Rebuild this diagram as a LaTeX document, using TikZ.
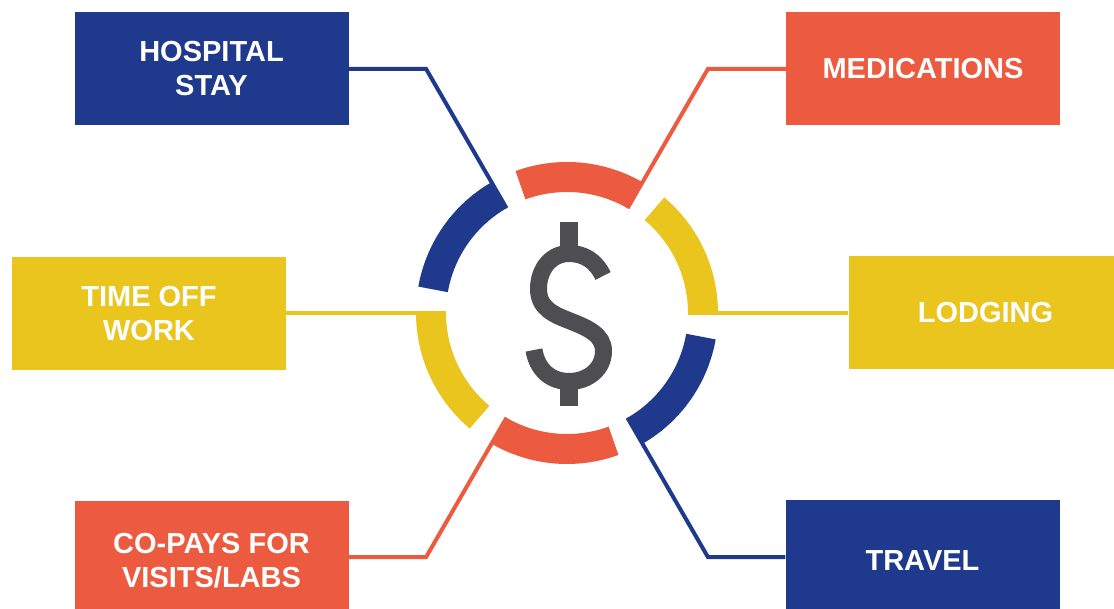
\documentclass[tikz,border=0pt]{standalone}
\usepackage{fontspec}
\setmainfont{Liberation Sans}
\usetikzlibrary{calc}
\definecolor{costblue}{RGB}{31,58,140}
\definecolor{costred}{RGB}{236,91,64}
\definecolor{costyellow}{RGB}{234,197,30}
\definecolor{costgray}{RGB}{78,78,80}
\tikzset{
    costbox/.style={minimum width=274pt,minimum height=113pt,inner sep=0pt,text=white,align=center,font=\bfseries\fontsize{29}{34}\selectfont},
    link/.style={line width=4pt,line join=miter}
}
\begin{document}
\begin{tikzpicture}[x=1pt,y=1pt]
                \fill[white] (0,0) rectangle (1114,609);
                \useasboundingbox (0,0) rectangle (1114,609);
                \coordinate (ring) at (567,296);
                \node[costbox,fill=costblue] (hospital) at (211.5,540) {HOSPITAL\\STAY};
                \node[costbox,fill=costred] (medications) at (923,540.5) {MEDICATIONS};
                \node[costbox,fill=costyellow] (timeoff) at (149,295.5) {TIME OFF\\WORK};
                \node[costbox,fill=costyellow] (lodging) at (985.5,296) {LODGING};
                \node[costbox,fill=costred,minimum height=120pt] (copays) at (211.5,48) {CO-PAYS FOR\\VISITS/LABS};
                \node[costbox,fill=costblue,minimum height=120pt] (travel) at (922.5,48.5) {TRAVEL};
                \coordinate (hospital bend) at ($(ring)+(120:282)$);
                \coordinate (medications bend) at ($(ring)+(60:282)$);
                \coordinate (copays bend) at ($(ring)+(240:282)$);
                \coordinate (travel bend) at ($(ring)+(300:282)$);
                \draw[link,costblue] (hospital.east |- hospital bend) -- (hospital bend) -- ($(ring)+(120:121)$);
                \draw[link,costred] (medications.west |- medications bend) -- (medications bend) -- ($(ring)+(60:121)$);
                \draw[link,costred] (copays.east |- copays bend) -- (copays bend) -- ($(ring)+(240:121)$);
                \draw[link,costblue] (travel.west |- travel bend) -- (travel bend) -- ($(ring)+(300:121)$);
                \draw[link,costyellow] (timeoff.east |- ring) -- ($(ring)+(180:121)$);
                \draw[link,costyellow] (lodging.west |- ring) -- ($(ring)+(0:121)$);
                \foreach \a/\col in {0/costyellow,60/costred,120/costblue,180/costyellow,240/costred,300/costblue}
                    \draw[line width=30pt,color=\col] ($(ring)+(\a:136)$) arc[start angle=\a,delta angle=50,radius=136];
                \fill[costgray] (560,350) rectangle (578,387);
                \fill[costgray] (560,203) rectangle (578,232);
                \draw[costgray,line width=17pt] (603,333) .. controls (596,348) and (584,355.5) .. (569,355.5)
                    .. controls (551,355.5) and (538.5,340) .. (538.5,320)
                    .. controls (538.5,300) and (555,294) .. (570,288)
                    .. controls (588,281) and (603.5,274) .. (603.5,258)
                    .. controls (603.5,240) and (588,227.5) .. (569,227.5)
                    .. controls (550,227.5) and (537,240) .. (534,259);
            \end{tikzpicture}
\end{document}
